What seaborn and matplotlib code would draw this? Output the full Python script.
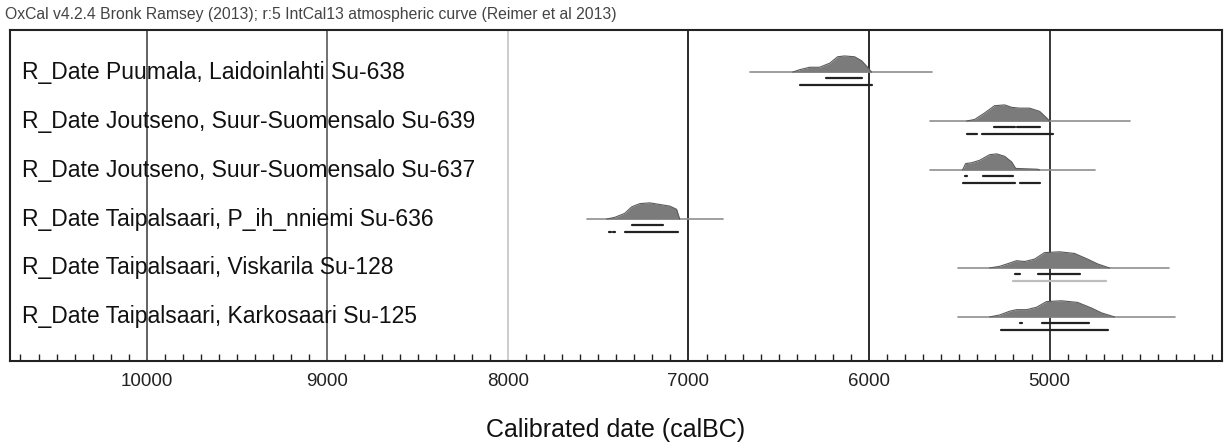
import numpy as np
import pandas as pd
import matplotlib
matplotlib.use('Agg')
import matplotlib.pyplot as plt
import matplotlib.transforms as mtransforms
import seaborn as sns

# sample names, top to bottom
names = ['R_Date Puumala, Laidoinlahti Su-638',
         'R_Date Joutseno, Suur-Suomensalo Su-639',
         'R_Date Joutseno, Suur-Suomensalo Su-637',
         'R_Date Taipalsaari, P_ih_nniemi Su-636',
         'R_Date Taipalsaari, Viskarila Su-128',
         'R_Date Taipalsaari, Karkosaari Su-125']

# posterior shapes (calBC, relative height)
years_638 = [6423, 6384, 6329, 6274, 6218, 6174, 6135, 6080, 6041, 6008, 5986]
dens_638 = [0, .15, .3, .3, .55, .95, 1.0, .95, .7, .3, 0]
years_639 = [5460, 5415, 5360, 5305, 5249, 5210, 5166, 5111, 5055, 5017, 5000]
dens_639 = [0, .1, .5, .95, 1.0, .85, .8, .8, .6, .2, 0]
years_637 = [5482, 5465, 5432, 5388, 5332, 5293, 5249, 5210, 5188, 5138, 5066, 5055]
dens_637 = [0, .4, .45, .6, .95, 1.0, .85, .5, .1, .08, .05, 0]
years_636 = [7453, 7409, 7353, 7315, 7270, 7215, 7160, 7104, 7066, 7049]
dens_636 = [0, .1, .35, .75, .95, 1.0, .9, .8, .6, 0]
years_128 = [5332, 5277, 5222, 5183, 5138, 5083, 5028, 4945, 4862, 4790, 4734, 4668]
dens_128 = [0, .1, .3, .45, .4, .55, .95, 1.0, .9, .55, .25, 0]
years_125 = [5332, 5277, 5222, 5183, 5127, 5072, 5017, 4934, 4845, 4768, 4712, 4640]
dens_125 = [0, .12, .35, .45, .45, .6, .95, 1.0, .9, .55, .25, 0]

dist_years = [years_638, years_639, years_637, years_636, years_128, years_125]
dist_dens = [dens_638, dens_639, dens_637, dens_636, dens_128, dens_125]

# extent of the faint likelihood line
line_from = [6661, 5664, 5664, 7564, 5509, 5509]
line_to = [5653, 4557, 4751, 6811, 4336, 4308]

# 68.2% and 95.4% ranges (from, to)
range68 = [[(6240, 6041)],
           [(5310, 5190), (5180, 5055)],
           [(5468, 5455), (5371, 5205)],
           [(7315, 7143)],
           [(5194, 5166), (5066, 4834)],
           [(5166, 5155), (5044, 4779)]]
range95 = [[(6384, 5986)],
           [(5460, 5404), (5377, 4983)],
           [(5482, 5194), (5166, 5055)],
           [(7440, 7428), (7418, 7406), (7353, 7060)],
           [(5205, 4690)],
           [(5271, 4679)]]
range95_light = [False, False, False, False, True, False]

major_ticks = [10000, 9000, 8000, 7000, 6000, 5000]
grid_colors = ['#555555', '#666666', '#c8c8c8', '#1a1a1a', '#1a1a1a', '#2a2a2a']

sns.set_theme(style='white')
plt.rcParams['font.family'] = ['Liberation Sans', 'DejaVu Sans']

fig = plt.figure(figsize=(12.26, 4.46), dpi=100)
ax = fig.add_axes([10/1226, 1-361/446, 1212/1226, 331/446])

for yr, c in zip(major_ticks, grid_colors):
    ax.axvline(yr, color=c, lw=1.3, zorder=1)

scale = 0.33
trans = mtransforms.blended_transform_factory(ax.transAxes, ax.transData)
for i in range(len(names)):
    ax.plot([line_from[i], line_to[i]], [i, i], color='#8f8f8f', lw=1.2, zorder=2)
    df = pd.DataFrame({'year': dist_years[i], 'h': i - scale*np.array(dist_dens[i])})
    ax.fill_between(df['year'], i, df['h'], color='#7b7b7b', lw=0, zorder=3)
    sns.lineplot(data=df, x='year', y='h', color='#5a5a5a', lw=0.8, ax=ax, zorder=4)
    for a, b in range68[i]:
        ax.plot([a, b], [i + 0.12, i + 0.12], color='#222222', lw=1.6, zorder=4)
    for a, b in range95[i]:
        c = '#bdbdbd' if range95_light[i] else '#222222'
        ax.plot([a, b], [i + 0.26, i + 0.26], color=c, lw=1.6, zorder=4)
    ax.text(12/1212, i, names[i], transform=trans, fontsize=16.5, va='center',
            ha='left', color='#111111', zorder=5)

ax.set_xlim(10758, 4045)
ax.set_ylim(5.9, -0.86)
ax.set_yticks([])
ax.set_xticks(major_ticks)
ax.set_xticklabels([str(t) for t in major_ticks])
ax.set_xticks(np.arange(4100, 10800, 100), minor=True)
ax.tick_params(axis='x', which='major', direction='in', length=0, pad=9,
               labelsize=13.5, labelcolor='#222222')
ax.tick_params(axis='x', which='minor', direction='in', length=5, width=1,
               color='#222222', bottom=True)
ax.set_xlabel('Calibrated date (calBC)', fontsize=18, labelpad=20, color='#111111')
ax.set_ylabel('')
for s in ax.spines.values():
    s.set_color('#222222')
    s.set_linewidth(1.5)

fig.text(5/1226, 1-15/446, 'OxCal v4.2.4 Bronk Ramsey (2013); r:5 IntCal13 atmospheric curve (Reimer et al 2013)',
         fontsize=11.3, color='#444444', va='center', ha='left')

fig.savefig('out.png', dpi=100)
